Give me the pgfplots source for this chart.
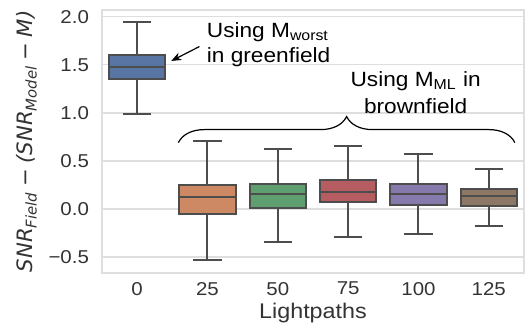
\documentclass[border=0pt]{standalone}
\usepackage{fontspec}
\setmainfont[FakeStretch=1.1]{Liberation Sans}
\newfontfamily\dejavu{DejaVu Sans}
\usepackage{pgfplots}
\pgfplotsset{compat=1.18}
\usepgfplotslibrary{statistics}
\usetikzlibrary{decorations.pathreplacing,arrows.meta}
\definecolor{c0}{HTML}{5975A4}
\definecolor{c1}{HTML}{CC8963}
\definecolor{c2}{HTML}{5F9E6E}
\definecolor{c3}{HTML}{B55D60}
\definecolor{c4}{HTML}{857AAB}
\definecolor{c5}{HTML}{8D7866}
\definecolor{lc}{HTML}{4D4D4D}
\definecolor{gridc}{HTML}{DEDEDE}
\definecolor{txt}{HTML}{333333}
\newcommand{\sm}{\hspace{0.25em}−\hspace{0.25em}}
\begin{document}
\begin{tikzpicture}
\begin{axis}[name=ax,
  width=211pt, height=131.5pt, scale only axis,
  xmin=-0.5, xmax=5.5, ymin=-0.667, ymax=2.07,
  xtick={0,1,2,3,4,5}, xticklabels={0,25,50,75,100,125},
  ytick={-0.5,0,0.5,1,1.5,2},
  yticklabels={\textminus0.5,0.0,0.5,1.0,1.5,2.0},
  major tick length=0pt,
  ymajorgrids, grid style={gridc, line width=0.7pt},
  axis line style={gridc, line width=0.8pt},
  tick label style={font=\fontsize{9.3}{11}\selectfont, text=txt},
  yticklabel style={xshift=-3pt},
  xticklabel style={yshift=-1pt},
  /pgf/number format/assume math mode=true,
  label style={font=\fontsize{10.6}{12}\selectfont, text=txt},
  xlabel={Lightpaths},
  ylabel={\dejavu\itshape SNR\textsubscript{Field}\sm(SNR\textsubscript{Model}\sm M)},
  xlabel style={yshift=3pt},
  ylabel style={yshift=-1pt},
  boxplot/draw direction=y,
  boxplot/box extend=0.8,
  boxplot/whisker extend=0.4,
  clip=false,
]
\addplot[boxplot prepared={median=1.48, upper quartile=1.60, lower quartile=1.35, upper whisker=1.95, lower whisker=0.99, draw position=0}, fill=c0, draw=lc, line width=1pt] coordinates {};
\addplot[boxplot prepared={median=0.12, upper quartile=0.25, lower quartile=-0.055, upper whisker=0.71, lower whisker=-0.53, draw position=1}, fill=c1, draw=lc, line width=1pt] coordinates {};
\addplot[boxplot prepared={median=0.156, upper quartile=0.26, lower quartile=0.014, upper whisker=0.625, lower whisker=-0.34, draw position=2}, fill=c2, draw=lc, line width=1pt] coordinates {};
\addplot[boxplot prepared={median=0.18, upper quartile=0.30, lower quartile=0.07, upper whisker=0.656, lower whisker=-0.29, draw position=3}, fill=c3, draw=lc, line width=1pt] coordinates {};
\addplot[boxplot prepared={median=0.156, upper quartile=0.26, lower quartile=0.045, upper whisker=0.57, lower whisker=-0.26, draw position=4}, fill=c4, draw=lc, line width=1pt] coordinates {};
\addplot[boxplot prepared={median=0.135, upper quartile=0.21, lower quartile=0.03, upper whisker=0.42, lower whisker=-0.18, draw position=5}, fill=c5, draw=lc, line width=1pt] coordinates {};
\draw[-{Stealth[length=5pt,width=4pt]}, line width=0.6pt] (axis cs:0.886,1.69) -- (axis cs:0.486,1.54);
\node[anchor=base west, inner sep=0pt, font=\fontsize{10.3}{12}\selectfont] at (axis cs:0.986,1.78) {Using M\textsubscript{worst}};
\node[anchor=base west, inner sep=0pt, font=\fontsize{10.3}{12}\selectfont] at (axis cs:0.986,1.52) {in greenfield};
\node[anchor=base, inner sep=0pt, font=\fontsize{10.3}{12}\selectfont] at (axis cs:3.96,1.27) {Using M\textsubscript{ML} in};
\node[anchor=base, inner sep=0pt, font=\fontsize{10.3}{12}\selectfont] at (axis cs:3.96,0.99) {brownfield};
\draw[decorate, decoration={brace, amplitude=13pt}, line width=0.6pt] (axis cs:0.586,0.69) -- (axis cs:5.37,0.69);
\end{axis}
\path ([shift={(-51pt,-31.5pt)}]ax.south west) rectangle ([shift={(212.5pt,136.5pt)}]ax.south west);
\end{tikzpicture}
\end{document}
